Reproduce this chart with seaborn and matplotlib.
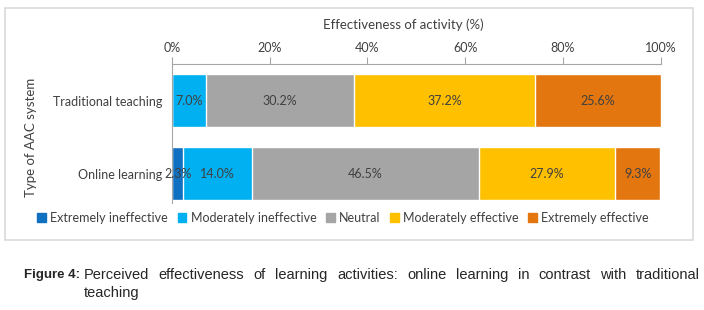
import matplotlib
matplotlib.use("Agg")
import matplotlib.pyplot as plt
import matplotlib.patches as mpatches
import numpy as np
import pandas as pd
import seaborn as sns

systems = ["Traditional teaching", "Online learning"]
levels = ["Extremely ineffective", "Moderately ineffective", "Neutral",
          "Moderately effective", "Extremely effective"]
traditional = [0.0, 7.0, 30.2, 37.2, 25.6]
online = [2.3, 14.0, 46.5, 27.9, 9.3]
colors = ["#0F6FC0", "#00B0F0", "#A5A5A5", "#FFC000", "#E4760F"]
caption_line1 = "Perceived effectiveness of learning activities: online learning in contrast with traditional"
caption_line2 = "teaching"

sns.set_style("white")
plt.rcParams["font.family"] = ["Lato", "DejaVu Sans"]

df = pd.DataFrame([traditional, online], columns=levels)
df.insert(0, "system", systems)
cum = df[levels].cumsum(axis=1)

fig = plt.figure(figsize=(7.04, 3.10), dpi=100)
ax = fig.add_axes([172 / 704, 1 - 203 / 310, (660.5 - 172) / 704, (203 - 64) / 310])

# stacked bars: draw cumulative totals from the right-most segment back
for lvl, col in reversed(list(zip(levels, colors))):
    sns.barplot(x=cum[lvl], y=df["system"], orient="h", color=col,
                width=0.726, saturation=1, ax=ax)

# segment labels
for i, row in df.iterrows():
    start = 0
    for lvl in levels:
        v = row[lvl]
        if v > 0:
            ax.text(start + v / 2, i, f"{v:.1f}%", ha="center", va="center",
                    fontsize=9, color="#404040")
        start += v

ax.set_xlim(0, 100)
ax.set_ylim(1.40, -0.5)
ax.xaxis.tick_top()
ax.set_xticks(np.arange(0, 101, 20))
ax.set_xticklabels([f"{t}%" for t in range(0, 101, 20)])
ax.tick_params(axis="x", which="both", top=True, length=5, width=0.8,
               color="#A6A6A6", labelsize=9, pad=2, labelcolor="#404040")
ax.tick_params(axis="y", length=0, labelsize=9, pad=7, labelcolor="#404040")
ax.set_xlabel("")
ax.set_ylabel("")
for s in ["right", "bottom"]:
    ax.spines[s].set_visible(False)
for s in ["top", "left"]:
    ax.spines[s].set_color("#A6A6A6")
    ax.spines[s].set_linewidth(0.8)

fig.text(403 / 704, 1 - 25 / 310, "Effectiveness of activity (%)", ha="center",
         va="center", fontsize=9.5, color="#404040")
fig.text(31 / 704, 1 - 137 / 310, "Type of AAC system", rotation=90, ha="center",
         va="center", fontsize=9.5, color="#404040")

handles = [mpatches.Patch(color=c, label=l) for l, c in zip(levels, colors)]
leg = fig.legend(handles=handles, loc="center", bbox_to_anchor=(343 / 704, 1 - 218 / 310),
                 ncol=5, frameon=False, fontsize=9, handlelength=0.7, handleheight=0.7,
                 handletextpad=0.35, columnspacing=0.75, borderaxespad=0)
for t in leg.get_texts():
    t.set_color("#404040")

# chart frame
fig.patches.append(mpatches.Rectangle((4.5 / 704, 1 - 240 / 310), (693 - 4.5) / 704,
                                      (240 - 8) / 310, transform=fig.transFigure,
                                      fill=False, edgecolor="#D9D9D9", linewidth=1.2))

# caption (first line justified between x=84 and x=700 px)
cap_font = dict(fontsize=10.5, family="Liberation Sans", va="center", ha="left")
fig.text(24 / 704, 1 - 275 / 310, "Figure 4:", fontweight="bold",
         **{**cap_font, "fontsize": 9.5})
renderer = fig.canvas.get_renderer()
words = [fig.text(0, 1 - 275 / 310, w, **cap_font) for w in caption_line1.split()]
widths = [w.get_window_extent(renderer).width for w in words]
gap = (700 - 84 - sum(widths)) / (len(words) - 1)
xpos = 84
for w, wd in zip(words, widths):
    w.set_x(xpos / 704)
    xpos += wd + gap
fig.text(84 / 704, 1 - 293 / 310, caption_line2, **cap_font)

fig.savefig("out.png", dpi=100)
